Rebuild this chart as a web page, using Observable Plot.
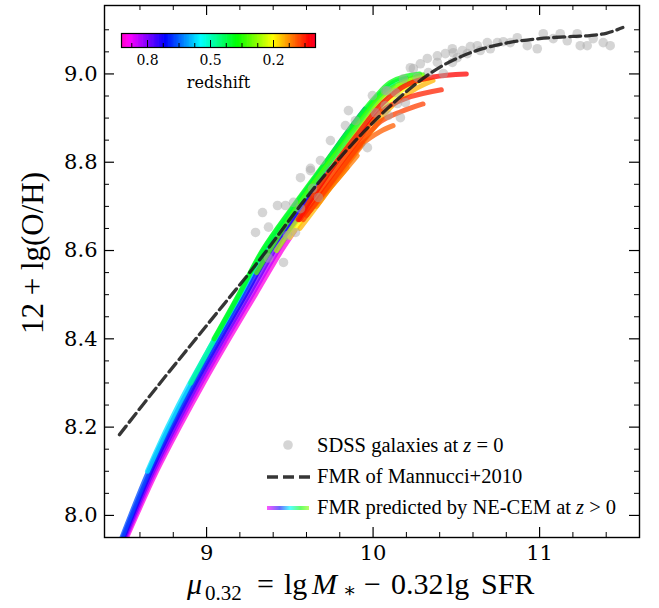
<!DOCTYPE html>
<html><head><meta charset="utf-8">
<script src="https://cdn.jsdelivr.net/npm/d3@7"></script>
<script src="https://cdn.jsdelivr.net/npm/@observablehq/plot@0.6"></script>
<style>
html,body{margin:0;padding:0;background:#fff;}
#wrap{position:relative;width:659px;height:608px;overflow:hidden;}
#wrap > *{position:absolute;}
</style></head><body><div id="wrap"></div>
<script>
// ---------- data ----------
// NE-CEM curves: redshift of each curve, and its points (mu_0.32, 12+lg(O/H))
const curveRedshift = [0.90, 0.84, 0.78, 0.72, 0.66, 0.56, 0.47, 0.38, 0.32, 0.26, 0.20, 0.15, 0.12, 0.11, 0.10, 0.09, 0.07, 0.05, 0.03];
const curveMu = [
  [8.52, 8.70, 8.837, 8.982, 9.135, 9.293, 9.45, 9.53],
  [8.513, 8.688, 8.822, 8.965, 9.117, 9.273, 9.427, 9.56],
  [8.506, 8.676, 8.807, 8.948, 9.099, 9.253, 9.404, 9.5, 9.62],
  [8.499, 8.664, 8.792, 8.931, 9.081, 9.233, 9.381, 9.55, 9.72, 9.80],
  [8.492, 8.652, 8.777, 8.914, 9.063, 9.213, 9.358, 9.52, 9.7, 9.85, 9.95],
  [8.645, 8.766, 8.901, 9.05, 9.2, 9.345, 9.54, 9.74, 9.94, 10.05, 10.12],
  [8.905, 9.048, 9.196, 9.338, 9.525, 9.72, 9.92, 10.03, 10.12, 10.2],
  [9.045, 9.193, 9.335, 9.52, 9.715, 9.91, 10.02, 10.10, 10.2, 10.28],
  [9.3, 9.46, 9.64, 9.84, 9.98, 10.08, 10.2, 10.3],
  [9.42, 9.6, 9.78, 9.93, 10.05, 10.17, 10.3],
  [9.5, 9.67, 9.82, 9.97, 10.1, 10.22, 10.33],
  [9.56, 9.7, 9.85, 9.99, 10.12, 10.25, 10.36],
  [9.66, 9.75, 9.845],
  [9.62, 9.76, 9.905],
  [9.6, 9.77, 9.94],
  [9.6, 9.78, 9.93, 10.045, 10.12],
  [9.58, 9.76, 9.92, 10.045, 10.17, 10.30],
  [9.56, 9.75, 9.91, 10.045, 10.2, 10.41],
  [9.55, 9.74, 9.92, 10.06, 10.2, 10.36, 10.56]
];
const curveLogOH = [
  [7.95, 8.1, 8.2, 8.3, 8.4, 8.5, 8.6, 8.645],
  [7.95, 8.1, 8.2, 8.3, 8.4, 8.5, 8.6, 8.68],
  [7.95, 8.1, 8.2, 8.3, 8.4, 8.5, 8.6, 8.66, 8.72],
  [7.95, 8.1, 8.2, 8.3, 8.4, 8.5, 8.6, 8.69, 8.79, 8.84],
  [7.95, 8.1, 8.2, 8.3, 8.4, 8.5, 8.6, 8.69, 8.79, 8.87, 8.92],
  [8.1, 8.2, 8.3, 8.4, 8.5, 8.6, 8.7, 8.8, 8.9, 8.95, 8.975],
  [8.3, 8.4, 8.5, 8.6, 8.7, 8.8, 8.9, 8.95, 8.98, 8.99],
  [8.4, 8.5, 8.6, 8.7, 8.8, 8.9, 8.95, 8.98, 8.995, 9.0],
  [8.55, 8.65, 8.75, 8.85, 8.92, 8.96, 8.985, 8.998],
  [8.6, 8.7, 8.8, 8.88, 8.94, 8.975, 8.993],
  [8.63, 8.72, 8.8, 8.88, 8.94, 8.975, 8.99],
  [8.65, 8.72, 8.8, 8.87, 8.93, 8.965, 8.985],
  [8.70, 8.745, 8.788],
  [8.69, 8.75, 8.815],
  [8.68, 8.76, 8.842],
  [8.68, 8.77, 8.84, 8.87, 8.883],
  [8.67, 8.76, 8.84, 8.892, 8.915, 8.932],
  [8.67, 8.77, 8.85, 8.914, 8.945, 8.964],
  [8.67, 8.78, 8.87, 8.935, 8.975, 8.993, 9.0]
];

// SDSS galaxies at z = 0
const sdssMu = [10.224,10.284,10.326,10.386,10.434,10.482,10.536,10.584,10.626,10.686,10.746,10.782,10.866,10.926,10.986,11.022,11.082,11.124,11.166,11.226,11.244,11.286,11.322,11.382,11.424,10.476,10.644,10.824,10.704,
  10.085,10.073,10.146,10.164,10.194,10.266,10.332,10.386,10.476,10.422,10.182,10.242,10.506,10.566,
  9.564,9.624,9.966,10.092,10.134,10.073,
  9.426,9.474,9.564,9.522,9.372,9.534,9.486,9.372,9.672,9.636,9.624,
  9.294,9.336,9.462,9.744,9.834,9.894,9.852,9.996,10.014,9.684];
const sdssLogOH = [9.014,9.023,9.035,9.041,9.046,9.048,9.053,9.062,9.064,9.071,9.071,9.073,9.082,9.064,9.057,9.091,9.080,9.091,9.075,9.091,9.064,9.064,9.080,9.071,9.064,9.057,9.053,9.071,9.057,
  8.962,8.928,8.933,8.901,8.935,8.992,9.003,9.026,9.026,9.001,8.989,9.012,9.037,9.046,
  8.765,8.786,8.833,8.906,8.958,8.962,
  8.702,8.702,8.695,8.709,8.653,8.641,8.634,8.583,8.720,8.741,8.781,
  8.641,8.686,8.573,8.849,8.883,8.894,8.917,8.951,8.912,8.804];

// FMR of Mannucci+2010
const fmrMu = [8.477, 8.7, 9.0, 9.3, 9.6, 9.8, 10.0, 10.2, 10.4, 10.6, 10.8, 11.0, 11.2, 11.3, 11.4, 11.5];
const fmrLogOH = [8.183, 8.29, 8.43, 8.57, 8.72, 8.81, 8.89, 8.96, 9.015, 9.05, 9.07, 9.08, 9.085, 9.087, 9.092, 9.105];

// axis ticks
const xMajor = [9, 10, 11];
const xMinor = [8.6, 8.8, 9.2, 9.4, 9.6, 9.8, 10.2, 10.4, 10.6, 10.8, 11.2, 11.4];
const yMajor = [8.0, 8.2, 8.4, 8.6, 8.8, 9.0];
const yMinor = [8.05, 8.1, 8.15, 8.25, 8.3, 8.35, 8.45, 8.5, 8.55, 8.65, 8.7, 8.75, 8.85, 8.9, 8.95, 9.05, 9.1];
// colorbar ticks
const cbMajor = [0.8, 0.5, 0.2];
const cbMinor = [0.875, 0.725, 0.65, 0.575, 0.425, 0.35, 0.275, 0.125, 0.05];

// ---------- colour map (gist_rainbow, z = 0 red ... z = zMax magenta) ----------
const zMax = 0.924;
const cmapStops = [0, 0.03, 0.215, 0.4, 0.586, 0.77, 0.954, 1];
const cmapColors = ["#ff0029", "#ff0000", "#ffff00", "#00ff00", "#00ffff", "#0000ff", "#ff00ff", "#ff00bf"];
const colorOpt = {type: "linear", domain: cmapStops.map(t => t * zMax), range: cmapColors, interpolate: "rgb", clamp: true};

// ---------- tables ----------
const rows = [];
curveRedshift.forEach((z, i) => curveMu[i].forEach((m, j) => rows.push({id: i, z, mu: m, oh: curveLogOH[i][j]})));
const sdss = sdssMu.map((m, i) => ({mu: m, oh: sdssLogOH[i]}));
const fmr = fmrMu.map((m, i) => ({mu: m, oh: fmrLogOH[i]}));

const W = 659, H = 608, mL = 104, mR = 20, mT = 5, mB = 71;
const fw = W - mL - mR, fh = H - mT - mB;
const MAJ = 10, MIN = 5;

const chart = Plot.plot({
  width: W, height: H, marginLeft: mL, marginRight: mR, marginTop: mT, marginBottom: mB,
  x: {domain: [8.387, 11.6]},
  y: {domain: [7.95, 9.155]},
  color: colorOpt,
  style: {fontFamily: "DejaVu Serif", fontSize: "21px", background: "white", color: "black"},
  marks: [
    Plot.line(rows, {x: "mu", y: "oh", z: "id", stroke: "z", strokeWidth: 5, strokeOpacity: 0.75, curve: "catmull-rom", clip: true}),
    Plot.dot(sdss, {x: "mu", y: "oh", r: 4.8, fill: "#a8a8a8", fillOpacity: 0.48}),
    Plot.line(fmr, {x: "mu", y: "oh", stroke: "#1a1a1a", strokeOpacity: 0.88, strokeWidth: 3.3, strokeDasharray: "11,5", curve: "catmull-rom", clip: true}),
    Plot.tickX(xMajor, {x: d => d, insetTop: fh - MAJ, strokeWidth: 1.2}),
    Plot.tickX(xMajor, {x: d => d, insetBottom: fh - MAJ, strokeWidth: 1.2}),
    Plot.tickX(xMinor, {x: d => d, insetTop: fh - MIN, strokeWidth: 1}),
    Plot.tickX(xMinor, {x: d => d, insetBottom: fh - MIN, strokeWidth: 1}),
    Plot.tickY(yMajor, {y: d => d, insetRight: fw - MAJ, strokeWidth: 1.2}),
    Plot.tickY(yMajor, {y: d => d, insetLeft: fw - MAJ, strokeWidth: 1.2}),
    Plot.tickY(yMinor, {y: d => d, insetRight: fw - MIN, strokeWidth: 1}),
    Plot.tickY(yMinor, {y: d => d, insetLeft: fw - MIN, strokeWidth: 1}),
    Plot.frame({stroke: "black", strokeWidth: 1.4}),
    Plot.axisX({ticks: xMajor, tickFormat: d3.format("d"), tickSize: 0, tickPadding: 8, fontSize: 21, label: null}),
    Plot.axisY({ticks: yMajor, tickFormat: d3.format(".1f"), tickSize: 0, tickPadding: 7, fontSize: 21, label: null})
  ]
});
chart.style.left = "0px"; chart.style.top = "0px";
document.getElementById("wrap").appendChild(chart);

// ---------- colorbar (inset) ----------
const cbL = 121, cbR = 315, cbT = 33, cbB = 47;
const cbPad = 20;
const cbStep = 0.004;
const cbSamples = d3.range(0, zMax, cbStep);
const cbH = cbB - cbT;
const cb = Plot.plot({
  width: (cbR - cbL) + 2 * cbPad, height: cbH + 60,
  marginLeft: cbPad, marginRight: cbPad, marginTop: 0, marginBottom: 60,
  x: {domain: [zMax, 0]}, y: {domain: [0, 1], axis: null},
  color: colorOpt,
  style: {fontFamily: "DejaVu Serif", fontSize: "14px", background: "transparent", color: "black", overflow: "visible"},
  marks: [
    Plot.rect(cbSamples, {x1: d => d, x2: d => Math.min(zMax, d + cbStep * 1.8), y1: 0, y2: 1, fill: d => d}),
    Plot.tickX(cbMajor, {x: d => d, insetTop: cbH - 7, strokeWidth: 1}),
    Plot.tickX(cbMinor, {x: d => d, insetTop: cbH - 4, strokeWidth: 1}),
    Plot.frame({stroke: "black", strokeWidth: 1.2}),
    Plot.axisX({ticks: cbMajor, tickSize: 0, tickPadding: 8, fontSize: 14, label: null}),
    Plot.text(["redshift"], {frameAnchor: "bottom", lineAnchor: "middle", dy: 35, fontSize: 16})
  ]
});
cb.style.left = (cbL - cbPad) + "px"; cb.style.top = cbT + "px";
document.getElementById("wrap").appendChild(cb);

// ---------- labels and legend ----------
const ns = "http://www.w3.org/2000/svg";
const ov = document.createElementNS(ns, "svg");
ov.setAttribute("width", W); ov.setAttribute("height", H);
ov.style.left = "0px"; ov.style.top = "0px"; ov.style.pointerEvents = "none";
ov.innerHTML = `
<defs><linearGradient id="rb" x1="0" x2="1" y1="0" y2="0">
<stop offset="0" stop-color="#ff55ff"/><stop offset="0.3" stop-color="#6a6aff"/>
<stop offset="0.55" stop-color="#55ffff"/><stop offset="0.8" stop-color="#66ff66"/><stop offset="1" stop-color="#b8ff66"/>
</linearGradient></defs>
<g font-family="Liberation Serif" fill="black">
<text y="594" font-size="30">
 <tspan x="187" font-style="italic">μ</tspan><tspan x="205" y="600" font-size="21">0.32</tspan><tspan x="257" y="594">=</tspan><tspan x="284">lg</tspan><tspan x="312" font-style="italic">M</tspan><tspan x="343" y="597" font-size="20" font-family="DejaVu Serif">∗</tspan><tspan x="364" y="594">−</tspan><tspan x="391">0.32</tspan><tspan x="446">lg</tspan><tspan x="481">SFR</tspan>
</text>
<text transform="translate(43,253) rotate(-90)" text-anchor="middle" font-size="31">12 + lg(O/H)</text>
<circle cx="288" cy="445" r="4.8" fill="#a8a8a8" fill-opacity="0.48"/>
<line x1="267" x2="310" y1="477" y2="477" stroke="#1a1a1a" stroke-opacity="0.88" stroke-width="3.3" stroke-dasharray="11,5"/>
<rect x="267" y="506" width="42" height="4" fill="url(#rb)"/>
<text x="317" y="452" font-size="20.5">SDSS galaxies at <tspan font-style="italic">z</tspan> = 0</text>
<text x="317" y="483" font-size="20.5">FMR of Mannucci+2010</text>
<text x="317" y="514" font-size="20.5">FMR predicted by NE-CEM at <tspan font-style="italic">z</tspan> &gt; 0</text>
</g>`;
document.getElementById("wrap").appendChild(ov);
</script>
</body></html>
